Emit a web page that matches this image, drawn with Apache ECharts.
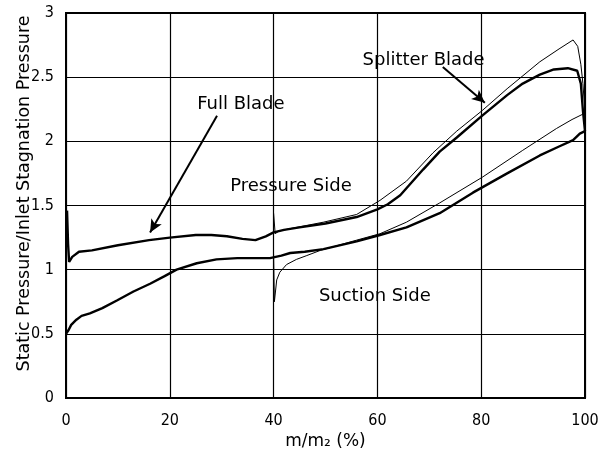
<!DOCTYPE html>
<html>
<head>
<meta charset="utf-8">
<script src="https://cdn.jsdelivr.net/npm/echarts@6/dist/echarts.min.js"></script>
<style>html,body{margin:0;padding:0;background:#fff}#c{width:603px;height:470px}</style>
</head>
<body>
<div id="c"></div>
<script>
// Full blade (thick) pressure side
const fullPressure = [[0.2,1.46],[0.4,1.2],[0.6,1.06],[1.2,1.1],[2.5,1.14],[5,1.15],[10,1.19],[16,1.23],[20,1.25],[25,1.27],[28,1.27],[31,1.26],[34,1.24],[36.5,1.23],[38.5,1.26],[40,1.29],[42,1.31],[45,1.33],[50,1.36],[56,1.41],[60,1.47],[62,1.51],[64.4,1.58],[68.8,1.78],[72,1.92],[75.3,2.03],[80.2,2.2],[85,2.36],[88,2.45],[91.3,2.52],[94,2.56],[96.7,2.57],[98.5,2.55],[99.2,2.45],[99.6,2.24],[100,2.08]];
// Full blade (thick) suction side
const fullSuction = [[0,0.5],[0.5,0.53],[1,0.57],[2,0.61],[3,0.64],[4.6,0.66],[7,0.7],[9.8,0.76],[13,0.83],[16.2,0.89],[19,0.95],[21.3,1.0],[25.2,1.05],[29,1.08],[33,1.09],[36.7,1.09],[39.3,1.09],[41.5,1.11],[43.2,1.13],[46,1.14],[49.6,1.16],[56,1.22],[60.5,1.27],[65.6,1.33],[72,1.44],[78.4,1.6],[85,1.75],[91.3,1.89],[95,1.96],[97.7,2.01],[99,2.06],[100,2.08]];
// Splitter blade (thin) pressure side
const splitterPressure = [[40,1.44],[40.3,1.28],[41,1.3],[43.2,1.32],[49.6,1.37],[56,1.43],[60.5,1.54],[65.6,1.69],[70.7,1.91],[75.3,2.08],[80.2,2.24],[85,2.41],[91.3,2.62],[95,2.72],[97.7,2.79],[98.6,2.74],[99.2,2.6],[99.6,2.45],[100,2.22]];
// Splitter blade (thin) suction side
const splitterSuction = [[40,1.12],[40.15,0.75],[40.6,0.92],[41.2,0.98],[42.5,1.04],[44.4,1.08],[46.4,1.11],[49,1.15],[56,1.23],[60.5,1.28],[65.6,1.37],[72,1.52],[80.2,1.72],[88,1.93],[94.5,2.1],[97.5,2.17],[100,2.22]];
// Annotations
const annoText = ['Full Blade','Pressure Side','Suction Side','Splitter Blade'];
const annoX = [33.7,43.35,59.5,68.9];
const annoY = [2.29,1.65,0.79,2.63];
const arrows = [[[29.1,2.2],[16.2,1.29]],[[72.6,2.58],[80.7,2.30]]];
// Axis ticks
const xTicks = [0,20,40,60,80,100];
const yTicks = [0,0.5,1,1.5,2,2.5,3];

const chart = echarts.init(document.getElementById('c'), null, {renderer:'canvas'});
const FONT = 'DejaVu Sans';
const lineSeries = (data, w) => ({type:'line', data, showSymbol:false, symbol:'none', smooth:false,
  lineStyle:{color:'#000', width:w}, silent:true, z:3});
chart.setOption({
  animation:false,
  backgroundColor:'#fff',
  grid:{left:66, right:18, top:13, bottom:72, show:true, borderColor:'#000', borderWidth:2, backgroundColor:'transparent',
    containLabel:false, outerBoundsMode:'none'},
  xAxis:{type:'value', min:xTicks[0], max:xTicks[xTicks.length-1], interval:20,
    name:'m/m₂ (%)', nameLocation:'middle', nameGap:35, nameMoveOverlap:false,
    nameTextStyle:{fontFamily:FONT, fontSize:17, color:'#000'},
    axisLine:{lineStyle:{color:'#000', width:2}}, axisTick:{show:false},
    axisLabel:{fontFamily:'DejaVu Sans Condensed', fontSize:16, color:'#000', margin:15},
    splitLine:{show:true, lineStyle:{color:'#000', width:1.2}}},
  yAxis:{type:'value', min:yTicks[0], max:yTicks[yTicks.length-1], interval:0.5,
    name:'Static Pressure/Inlet Stagnation Pressure', nameLocation:'middle', nameGap:33, nameMoveOverlap:false,
    nameTextStyle:{fontFamily:FONT, fontSize:17.5, color:'#000', padding:[0,0,0,24]},
    axisLine:{lineStyle:{color:'#000', width:2}}, axisTick:{show:false},
    axisLabel:{fontFamily:'DejaVu Sans Condensed', fontSize:16, color:'#000', margin:12},
    splitLine:{show:true, lineStyle:{color:'#000', width:1.2}}},
  series:[
    lineSeries(fullPressure, 2.4),
    lineSeries(fullSuction, 2.4),
    lineSeries(splitterPressure, 1),
    lineSeries(splitterSuction, 1),
    {type:'scatter', data: annoText.map((t,i)=>({name:t, value:[annoX[i], annoY[i]]})),
      symbolSize:0, silent:true, z:5, itemStyle:{opacity:1, color:'#000'},
      label:{show:true, position:'inside', formatter:p=>p.name, fontFamily:FONT, fontSize:18, color:'#000',
        opacity:1, textBorderWidth:0},
      markLine:{silent:true, symbol:['none','arrow'], symbolSize:[9,13],
        lineStyle:{color:'#000', width:2, type:'solid', opacity:1}, label:{show:false},
        data: arrows.map(a=>[{coord:a[0]},{coord:a[1]}])}}
  ]
});
</script>
</body>
</html>
